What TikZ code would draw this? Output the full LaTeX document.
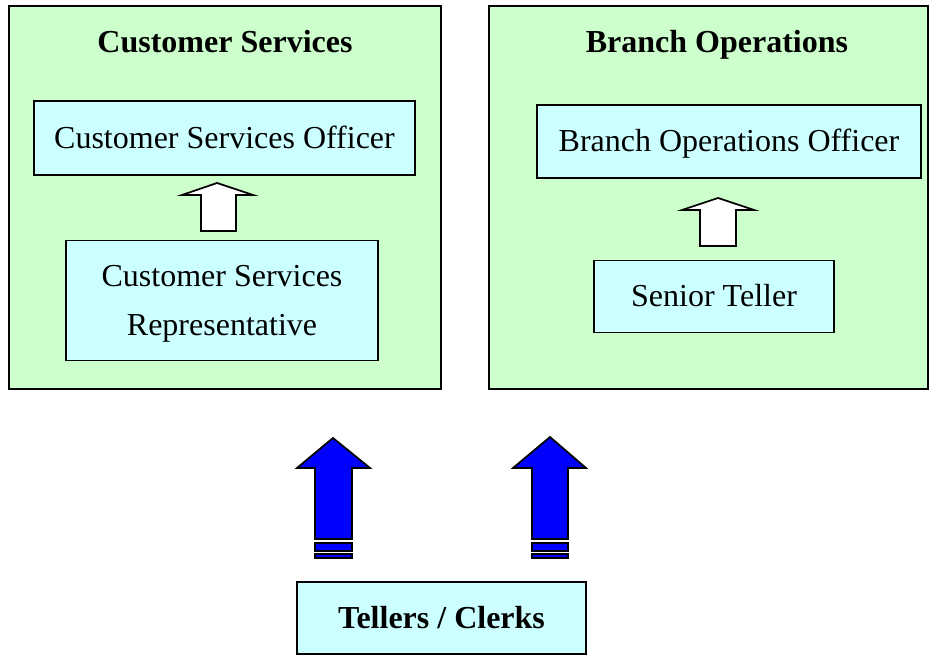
\documentclass[tikz,border=0pt]{standalone}
\usepackage{fontspec}
\setmainfont{Liberation Serif}
\definecolor{grn}{HTML}{CCFFCC}
\definecolor{cyn}{HTML}{CCFFFF}
\definecolor{blu}{HTML}{0000FF}
\begin{document}
\begin{tikzpicture}[x=0.75pt,y=-0.75pt,
  txt/.style={font=\fontsize{24}{36.75}\selectfont},
  title/.style={font=\fontsize{24}{36}\selectfont\bfseries, anchor=base, inner sep=0pt},
  group/.style={draw=black, fill=grn, line width=1.4pt, inner sep=0pt},
  role/.style={draw=black, fill=cyn, line width=1.4pt, inner sep=0pt, align=center, txt, text height=21pt, text depth=5.4pt},
  whitearrow/.style={draw=black, fill=white, line width=1.3pt, line join=miter},
  bluearrow/.style={draw=black, fill=blu, line width=1.3pt, line join=miter}]
\useasboundingbox (0,0) rectangle (936,655);
% group panels
\node[group, minimum width=432*0.75pt, minimum height=383*0.75pt] (cs) at (225,197.5) {};
\node[group, minimum width=439*0.75pt, minimum height=383*0.75pt] (bo) at (708.5,197.5) {};
\node[title] (cstitle) at (225,53) {Customer Services};
\node[title] (botitle) at (717,53) {Branch Operations};
% roles
\node[role, minimum width=381*0.75pt, minimum height=74*0.75pt] (cso) at (224.5,138) {Customer Services Officer};
\node[role, minimum width=312*0.75pt, minimum height=120*0.75pt, text height=, text depth=] (csr) at (222,300.5) {};
\node[txt, anchor=base, inner sep=0pt] (csr1) at (222,287) {Customer Services};
\node[txt, anchor=base, inner sep=0pt] (csr2) at (222,336) {Representative};
\node[role, minimum width=384*0.75pt, minimum height=73*0.75pt] (boo) at (729,141.5) {Branch Operations Officer};
\node[role, minimum width=240*0.75pt, minimum height=72*0.75pt] (st) at (714,296.5) {Senior Teller};
\node[role, minimum width=289*0.75pt, minimum height=72*0.75pt, font=\fontsize{24}{36}\selectfont\bfseries] (tc) at (441.5,618) {Tellers / Clerks};
% white promotion arrows
\draw[whitearrow] (201,231) -- (201,195) -- (182,195) -- (217,183) -- (253,195) -- (236,195) -- (236,231) -- cycle;
\draw[whitearrow] (700,246) -- (700,210) -- (682,210) -- (718,198) -- (754,210) -- (736,210) -- (736,246) -- cycle;
% blue arrows
\draw[bluearrow] (315,539) -- (315,468) -- (297,468) -- (333,438) -- (370,468) -- (352,468) -- (352,539) -- cycle;
\draw[bluearrow] (315,543) rectangle (352,551);
\draw[bluearrow] (315,554) rectangle (352,558);
\draw[bluearrow] (532,539) -- (532,468) -- (513,468) -- (550,437) -- (586,468) -- (568,468) -- (568,539) -- cycle;
\draw[bluearrow] (532,543) rectangle (568,551);
\draw[bluearrow] (532,554) rectangle (568,558);
\end{tikzpicture}
\end{document}
